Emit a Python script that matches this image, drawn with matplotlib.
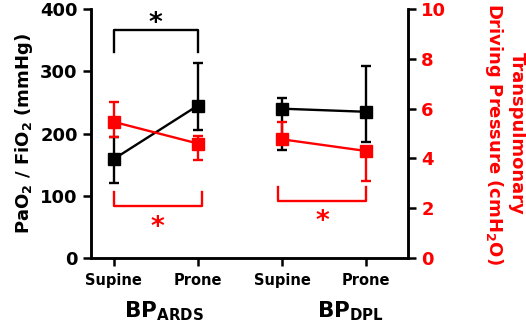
import numpy as np
import matplotlib.pyplot as plt

plt.rcParams['font.family'] = 'DejaVu Sans'
plt.rcParams['font.weight'] = 'bold'
plt.rcParams['mathtext.fontset'] = 'custom'
plt.rcParams['mathtext.rm'] = 'DejaVu Sans:bold'
plt.rcParams['mathtext.bf'] = 'DejaVu Sans:bold'
plt.rcParams['mathtext.it'] = 'DejaVu Sans:bold'

# categories
positions = ['Supine', 'Prone', 'Supine', 'Prone']
groups = [r'BP$_{\mathrm{ARDS}}$', r'BP$_{\mathrm{DPL}}$']

# PaO2/FiO2 (left axis), per group: supine, prone
pf_mean = [[159, 245], [240, 235]]
pf_low = [[120, 206], [173, 186]]
pf_high = [[194, 314], [257, 309]]

# transpulmonary driving pressure (right axis)
dp_mean = [[5.47, 4.6], [4.77, 4.3]]
dp_low = [[4.85, 3.92], [4.7, 3.08]]
dp_high = [[6.28, 4.9], [5.47, 4.4]]

RED = '#ff0000'

fig = plt.figure(figsize=(5.26, 3.25), dpi=100)
ax = fig.add_axes([0.173, 0.206, 0.603, 0.766])
ax2 = ax.twinx()

for g in range(2):
    xs = np.array([0, 1]) + 2 * g
    m = np.array(pf_mean[g]); lo = np.array(pf_low[g]); hi = np.array(pf_high[g])
    ax.errorbar(xs, m, yerr=[m - lo, hi - m], color='k', marker='s', ms=8.5,
                lw=1.7, elinewidth=1.7, capsize=3.6, capthick=1.7)
    m = np.array(dp_mean[g]); lo = np.array(dp_low[g]); hi = np.array(dp_high[g])
    ax2.errorbar(xs, m, yerr=[m - lo, hi - m], color=RED, marker='s', ms=8.5,
                 lw=1.7, elinewidth=1.7, capsize=3.6, capthick=1.7)

# significance brackets
ax.plot([0, 0, 1, 1], [331, 367, 367, 331], color='k', lw=1.7)
ax.text(0.5, 376, '*', ha='center', va='center', fontsize=19, color='k')
ax2.plot([0, 0, 1.05, 1.05], [2.65, 2.09, 2.09, 2.65], color=RED, lw=1.7)
ax2.text(0.52, 1.22, '*', ha='center', va='center', fontsize=19, color=RED)
ax2.plot([1.95, 1.95, 3, 3], [2.86, 2.3, 2.3, 2.86], color=RED, lw=1.7)
ax2.text(2.48, 1.45, '*', ha='center', va='center', fontsize=19, color=RED)

ax.set_xlim(-0.27, 3.5)
ax.set_ylim(0, 400)
ax2.set_ylim(0, 10)
ax.set_yticks([0, 100, 200, 300, 400])
ax2.set_yticks([0, 2, 4, 6, 8, 10])
ax.set_xticks([0, 1, 2, 3])
ax.set_xticklabels(positions, fontsize=10.5, fontweight='bold')

for a in (ax, ax2):
    a.spines['top'].set_visible(False)
    for s in a.spines.values():
        s.set_linewidth(1.8)
    a.tick_params(width=1.8, length=6)
ax.tick_params(axis='y', labelsize=13)
ax.tick_params(axis='x', pad=5)
ax2.tick_params(axis='y', labelsize=13, labelcolor=RED)

ax.set_ylabel(r'PaO$_2$ / FiO$_2$ (mmHg)', fontsize=13, fontweight='bold', labelpad=4)
ax2.set_ylabel('Transpulmonary\nDriving Pressure (cmH$_2$O)', fontsize=13,
               fontweight='bold', color=RED, rotation=270, labelpad=57,
               linespacing=1.15)

ax.text(0.6, -96, groups[0], ha='center', va='baseline', fontsize=15.5,
        fontweight='bold', clip_on=False)
ax.text(2.81, -96, groups[1], ha='center', va='baseline', fontsize=15.5,
        fontweight='bold', clip_on=False)

fig.savefig('out.png', dpi=100)
